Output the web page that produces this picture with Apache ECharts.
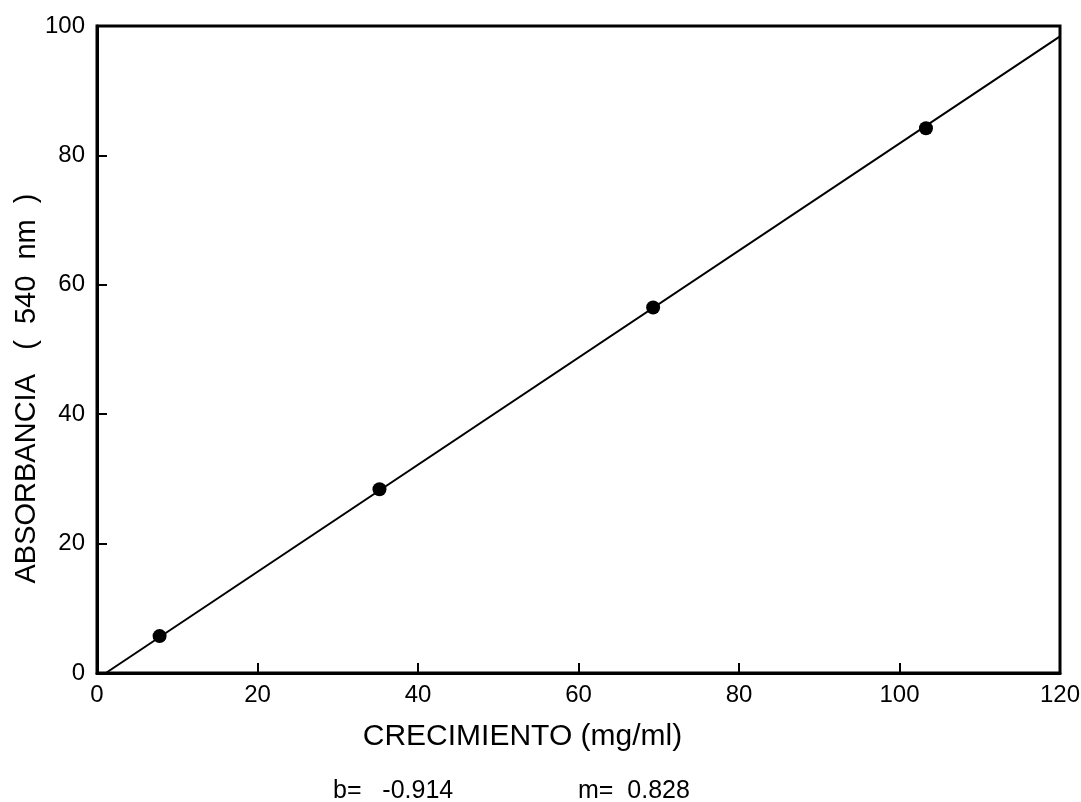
<!DOCTYPE html>
<html>
<head>
<meta charset="utf-8">
<script src="https://cdn.jsdelivr.net/npm/echarts@6/dist/echarts.min.js"></script>
<style>
html,body{margin:0;padding:0;background:#fff;}
#chart{width:1081px;height:802px;}
</style>
</head>
<body>
<div id="chart"></div>
<script>
// Data
const pointsX = [7.8, 35.2, 69.3, 103.3];
const pointsY = [5.7, 28.4, 56.5, 84.2];
const fitLineX = [1.1, 120];
const fitLineY = [0, 98.4];
const xTicks = [0, 20, 40, 60, 80, 100, 120];
const yTicks = [0, 20, 40, 60, 80, 100];
const xTitle = 'CRECIMIENTO (mg/ml)';
const yTitle = 'ABSORBANCIA   (  540  nm  )';
const noteB = 'b=   -0.914';
const noteM = 'm=  0.828';

const font = '"Liberation Sans", Arial, sans-serif';
const chart = echarts.init(document.getElementById('chart'), null, {renderer: 'canvas'});

const pointData = pointsX.map((x, i) => [x, pointsY[i]]);
const lineData = fitLineX.map((x, i) => [x, fitLineY[i]]);

chart.setOption({
  animation: false,
  backgroundColor: '#fff',
  grid: {
    left: 97, right: 21, top: 26, bottom: 129,
    outerBoundsMode: 'none', containLabel: false,
    show: true, borderColor: '#000', borderWidth: 3, backgroundColor: 'transparent'
  },
  xAxis: {
    type: 'value', min: xTicks[0], max: xTicks[xTicks.length - 1], interval: 20,
    axisLine: {show: true, onZero: false, lineStyle: {color: '#000', width: 3}},
    axisTick: {show: true, inside: true, length: 10, lineStyle: {color: '#000', width: 2}},
    splitLine: {show: false},
    axisLabel: {color: '#000', fontSize: 24, fontFamily: font, margin: 10},
    name: xTitle, nameLocation: 'middle', nameGap: 49, nameMoveOverlap: false,
    nameTextStyle: {color: '#000', fontSize: 30, fontFamily: font, padding: [0, 112, 0, 0]}
  },
  yAxis: {
    type: 'value', min: yTicks[0], max: yTicks[yTicks.length - 1], interval: 20,
    axisLine: {show: true, onZero: false, lineStyle: {color: '#000', width: 3}},
    axisTick: {show: true, inside: true, length: 10, lineStyle: {color: '#000', width: 2}},
    splitLine: {show: false},
    axisLabel: {color: '#000', fontSize: 24, fontFamily: font, margin: 12},
    name: yTitle, nameLocation: 'middle', nameGap: 56, nameRotate: 90, nameMoveOverlap: false,
    nameTextStyle: {color: '#000', fontSize: 29, fontFamily: font, padding: [0, 78, 0, 0]}
  },
  graphic: [
    {type: 'text', left: 333, top: 779, style: {text: noteB, fill: '#000', font: '25px ' + font}},
    {type: 'text', left: 578, top: 779, style: {text: noteM, fill: '#000', font: '25px ' + font}}
  ],
  series: [
    {
      type: 'line', data: lineData, symbol: 'none',
      lineStyle: {color: '#000', width: 2}, z: 2
    },
    {
      type: 'scatter', data: pointData, symbol: 'circle', symbolSize: 14,
      itemStyle: {color: '#000', opacity: 1}, z: 3
    }
  ]
});
</script>
</body>
</html>
